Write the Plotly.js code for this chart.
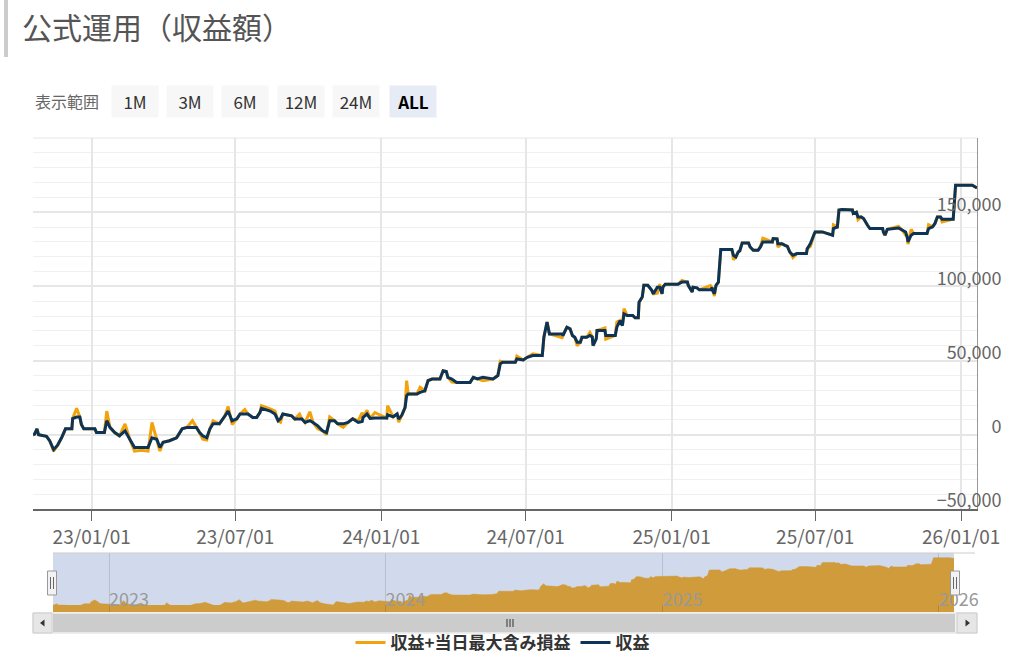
<!DOCTYPE html>
<html>
<head>
<meta charset="utf-8">
<script src="https://cdn.plot.ly/plotly-3.0.1.min.js"></script>
<style>
  html, body { margin: 0; padding: 0; background: #ffffff; }
  #chart { width: 1020px; height: 665px; }
</style>
</head>
<body>
<div id="chart"></div>
<script>
// ---- data ----
const dates = [
  "2022-10-19","2022-10-21","2022-10-24","2022-10-26","2022-11-05","2022-11-09","2022-11-14","2022-11-19","2022-11-24","2022-11-29",
  "2022-12-07","2022-12-08","2022-12-13","2022-12-17","2022-12-19","2022-12-22","2023-01-05","2023-01-07","2023-01-17","2023-01-20",
  "2023-01-24","2023-01-30","2023-02-05","2023-02-12","2023-02-18","2023-02-24","2023-03-05","2023-03-13","2023-03-18","2023-03-24",
  "2023-03-28","2023-04-01","2023-04-09","2023-04-18","2023-04-25","2023-05-01","2023-05-08","2023-05-13","2023-05-17","2023-05-21",
  "2023-05-26","2023-05-30","2023-06-03","2023-06-11","2023-06-18","2023-06-22","2023-06-27","2023-07-03","2023-07-07","2023-07-13",
  "2023-07-17","2023-07-23","2023-07-28","2023-08-01","2023-08-03","2023-08-14","2023-08-20","2023-08-24","2023-08-27","2023-08-30",
  "2023-09-10","2023-09-14","2023-09-20","2023-09-23","2023-09-27","2023-10-03","2023-10-07","2023-10-13","2023-10-19","2023-10-24",
  "2023-10-28","2023-11-03","2023-11-07","2023-11-14","2023-11-20","2023-11-26","2023-12-03","2023-12-08","2023-12-09","2023-12-14",
  "2023-12-18","2023-12-24","2024-01-08","2024-01-09","2024-01-16","2024-01-21","2024-01-23","2024-01-27","2024-01-31","2024-02-02",
  "2024-02-04","2024-02-15","2024-02-19","2024-02-25","2024-02-29","2024-03-05","2024-03-15","2024-03-19","2024-03-23","2024-03-25",
  "2024-03-30","2024-04-05","2024-04-22","2024-04-26","2024-05-01","2024-05-08","2024-05-21","2024-05-27","2024-05-30","2024-06-02",
  "2024-06-18","2024-06-20","2024-06-28","2024-07-03","2024-07-10","2024-07-22","2024-07-24","2024-07-28","2024-07-31","2024-08-16",
  "2024-08-17","2024-08-22","2024-08-26","2024-08-29","2024-09-01","2024-09-04","2024-09-08","2024-09-10","2024-09-16","2024-09-20",
  "2024-09-23","2024-09-24","2024-09-28","2024-09-29","2024-10-09","2024-10-10","2024-10-22","2024-10-24","2024-10-28","2024-10-31",
  "2024-11-02","2024-11-06","2024-11-13","2024-11-16","2024-11-20","2024-11-21","2024-11-25","2024-11-27","2024-12-02","2024-12-07",
  "2024-12-09","2024-12-14","2024-12-17","2024-12-20","2024-12-21","2024-12-24","2025-01-09","2025-01-14","2025-01-21","2025-01-22",
  "2025-01-27","2025-01-28","2025-02-02","2025-02-05","2025-02-19","2025-02-21","2025-02-22","2025-02-24","2025-02-26","2025-03-01",
  "2025-03-04","2025-03-18","2025-03-20","2025-03-23","2025-03-26","2025-03-28","2025-03-31","2025-04-08","2025-04-10","2025-04-14",
  "2025-04-20","2025-04-23","2025-04-26","2025-05-08","2025-05-09","2025-05-14","2025-05-15","2025-05-20","2025-05-24","2025-05-27",
  "2025-05-30","2025-06-03","2025-06-08","2025-06-20","2025-06-21","2025-06-25","2025-06-30","2025-07-01","2025-07-10","2025-07-16",
  "2025-07-23","2025-07-24","2025-07-29","2025-07-31","2025-08-04","2025-08-17","2025-08-18","2025-08-22","2025-08-24","2025-08-28",
  "2025-08-31","2025-09-05","2025-09-08","2025-09-24","2025-09-25","2025-09-27","2025-09-30","2025-10-14","2025-10-19","2025-10-23",
  "2025-10-25","2025-10-26","2025-10-30","2025-11-02","2025-11-19","2025-11-21","2025-11-26","2025-11-29","2025-12-02","2025-12-06",
  "2025-12-08","2025-12-22","2025-12-25","2026-01-15","2026-01-21"
];

// 収益
const profit = [
  0,500,4000,0,-1000,-4000,-10000,-7000,-2000,4000,
  4000,11000,12000,12000,7000,4000,4000,1500,1500,9500,
  5000,1500,-700,2700,-3000,-8500,-8500,-8500,-2000,-3000,
  -8500,-5000,-4000,-2000,4000,5000,5000,5000,1500,-700,
  -2000,4000,7400,7400,12800,16000,9500,10800,14000,14000,
  14000,11700,11700,15000,17800,16000,14000,9500,11000,14000,
  12800,10600,10600,10600,8300,9500,8300,6000,2700,1500,
  9500,9500,7400,7400,8300,10800,8300,9000,11700,14000,
  11000,11300,11300,13500,12100,14000,10600,13300,18400,26300,
  27500,27500,28600,29700,36500,37600,37600,43200,42700,38700,
  37600,35300,35300,38700,37600,38700,37600,39900,47800,48900,
  48900,51100,50400,52200,53400,53400,65700,75900,68000,68000,
  66900,72500,71400,66900,65700,62400,62400,65700,65700,66900,
  66000,60100,64700,70300,70300,66900,66900,72500,77000,73600,
  81500,80400,80400,78800,78800,89400,92800,100700,100700,97300,
  95000,99500,99500,95000,99500,101400,101400,102900,102900,100700,
  96200,99500,99000,97700,97700,99100,97000,95000,100700,102900,
  124800,124800,121000,119800,123200,124000,129300,129300,126600,124300,
  124300,126600,130000,130000,132200,132000,128800,128800,127700,127000,
  123200,121000,122100,122100,125400,128800,135600,136700,136700,135600,
  134500,139000,140100,151400,151800,151500,149100,150000,146800,146800,
  145700,141200,139000,139000,136700,134500,138500,139400,137800,136700,
  133300,130000,134500,135600,135600,139000,140100,142400,146800,146800,
  145300,145300,168200,168200,166400
];

// 収益+当日最大含み損益
const profitWithMax = [
  0,500,4000,0,-1000,-4000,-11000,-7000,-2000,4000,
  4000,11000,17800,12000,7000,4000,4000,1500,1500,16000,
  5000,1500,-700,7400,-3000,-11000,-10500,-11000,8300,-3000,
  -11000,-5000,-4000,-2000,4000,5000,9500,5000,1500,-3000,
  -3500,4000,9500,7400,12800,19000,7000,10800,14000,17000,
  14000,11700,11700,15000,19600,17500,16000,9500,8500,14000,
  12800,10600,14000,10600,8300,15500,8300,4000,2700,0,
  12000,9500,7400,5000,8300,10800,9500,15000,11700,16500,
  11000,15000,11300,19600,12100,14000,8500,13300,18400,36500,
  27500,27500,32000,29700,36500,37600,37600,43200,42700,38700,
  35500,35300,35300,38700,37600,36500,37600,39900,49500,48900,
  48900,53000,50400,52200,54600,53400,65700,75900,68000,65500,
  66900,72500,71400,66900,65700,60000,62400,65700,65700,69000,
  66000,60100,64700,70300,72000,64500,66900,76000,77000,73600,
  85000,80400,80400,78800,78800,89400,92800,100700,100700,97300,
  95000,95500,101500,95000,99500,101400,101400,104000,102900,100700,
  96200,99500,99000,97700,100500,99100,97000,93500,100700,102900,
  124800,124800,118000,119800,123200,124000,129300,129300,126600,124300,
  124300,126600,132500,130000,132200,132000,126500,128800,127700,127000,
  123200,119500,122100,122100,125400,127000,135600,136700,136700,135600,
  134500,141500,140100,151400,151800,151500,149100,150000,145000,146800,
  145700,141200,139000,139000,136700,134500,138500,140500,137800,134500,
  133300,128500,138500,135600,135600,141500,140100,142400,146800,146800,
  143500,145300,168200,168200,166400
];

const seriesNames = ["収益+当日最大含み損益", "収益"];
const yTickVals = [-50000, 0, 50000, 100000, 150000];
const xTickVals = ["2023-01-01","2023-07-01","2024-01-01","2024-07-01","2025-01-01","2025-07-01","2026-01-01"];
const navTickVals = ["2023-01-01","2024-01-01","2025-01-01","2026-01-01"];
const rangeButtons = ["1M", "3M", "6M", "12M", "24M", "ALL"];
const rangeLabel = "表示範囲";
const titleText = "公式運用（収益額）";

// ---- styling helpers (pixel -> paper coordinates for decorations) ----
const W = 1020, H = 665;
const ML = 33, MR = 43, MT = 138, MB = 53;
const PW = W - ML - MR, PH = H - MT - MB;
const PX = X => (X - ML) / PW;
const PY = Y => (H - MB - Y) / PH;
const FONT = '"Noto Sans CJK JP", "Noto Sans", sans-serif';

const navColor = '#d09b3b';
const orange = '#f2a20c';
const navy = '#0c3358';

const traces = [
  {
    x: dates, y: profitWithMax, name: seriesNames[0], type: 'scatter', mode: 'lines',
    line: { color: orange, width: 3 }, xaxis: 'x', yaxis: 'y'
  },
  {
    x: dates, y: profit, name: seriesNames[1], type: 'scatter', mode: 'lines',
    line: { color: navy, width: 3 }, xaxis: 'x', yaxis: 'y'
  },
  {
    x: dates, y: profitWithMax, type: 'scatter', mode: 'lines', fill: 'tozeroy',
    fillcolor: navColor, line: { color: navColor, width: 0.5 },
    xaxis: 'x2', yaxis: 'y2', showlegend: false, hoverinfo: 'skip'
  }
];

const shapes = [];
function rectPx(x0, y0, x1, y1, fill, lineColor, lw) {
  shapes.push({ type: 'rect', xref: 'paper', yref: 'paper', x0: PX(x0), x1: PX(x1), y0: PY(y1), y1: PY(y0),
    fillcolor: fill, line: { color: lineColor || fill, width: lw === undefined ? 0 : lw }, layer: 'above' });
}
function linePx(x0, y0, x1, y1, color, w) {
  shapes.push({ type: 'line', xref: 'paper', yref: 'paper', x0: PX(x0), x1: PX(x1), y0: PY(y0), y1: PY(y1),
    line: { color: color, width: w }, layer: 'above' });
}
function pathPx(pts, fill) {
  const d = pts.map((p, i) => (i ? 'L' : 'M') + PX(p[0]) + ',' + PY(p[1])).join(' ') + ' Z';
  shapes.push({ type: 'path', xref: 'paper', yref: 'paper', path: d, fillcolor: fill, line: { width: 0 }, layer: 'above' });
}

// navigator background (selected zone mask) and base of the area
shapes.push({ type: 'rect', xref: 'x2 domain', yref: 'y2 domain', x0: 0, x1: 1, y0: 0, y1: 1,
  fillcolor: 'rgba(102,133,194,0.3)', line: { width: 0 }, layer: 'below' });
shapes.push({ type: 'rect', xref: 'x2 domain', yref: 'y2', x0: 0, x1: 1, y0: -25000, y1: 0,
  fillcolor: navColor, line: { width: 0 }, layer: 'below' });

// top border of main plot
linePx(33, 138, 977, 138, '#e6e6e6', 1);
// navigator top outline
linePx(53, 553, 975, 553, '#cccccc', 1);
// navigator handles
[52, 955].forEach(cx => {
  rectPx(cx - 4.5, 571, cx + 4.5, 595, '#f2f2f2', '#999999', 1);
  linePx(cx - 1.5, 577, cx - 1.5, 589, '#666666', 1);
  linePx(cx + 1.5, 577, cx + 1.5, 589, '#666666', 1);
});

// scrollbar
rectPx(33, 613, 977, 633, '#f2f2f2', '#dddddd', 1);
rectPx(53, 614, 955, 632, '#cccccc', '#cccccc', 0);
rectPx(33, 613, 52, 633, '#e6e6e6', '#cccccc', 1);
rectPx(957, 613, 977, 633, '#e6e6e6', '#cccccc', 1);
pathPx([[44.5, 619.5], [40, 623], [44.5, 626.5]], '#333333');
pathPx([[965.5, 619.5], [970, 623], [965.5, 626.5]], '#333333');
[507, 510, 513].forEach(x => linePx(x, 619, x, 627, '#333333', 1));

// title left bar
rectPx(4, 0, 8, 57, '#cccccc', '#cccccc', 0);

// range selector (visual)
const annotations = [];
annotations.push({
  text: rangeLabel, xref: 'paper', yref: 'paper', x: 0, y: 1, xanchor: 'left', yanchor: 'middle',
  xshift: 0, yshift: MT - 101, showarrow: false, font: { family: FONT, size: 16, color: '#666666' }
});
const btnCenters = [135, 190, 245, 301, 356, 412.5];
rangeButtons.forEach((b, i) => {
  const active = b === 'ALL';
  annotations.push({
    text: b, xref: 'paper', yref: 'paper', x: 0, y: 1, xanchor: 'center', yanchor: 'middle',
    xshift: btnCenters[i] - ML, yshift: MT - 101.5, showarrow: false,
    width: 46, height: 31, borderpad: 0, bgcolor: active ? '#e6ebf5' : '#f7f7f7',
    font: { family: FONT, size: 17, color: active ? '#000000' : '#333333', weight: active ? 'bold' : 'normal' }
  });
});

const layout = {
  width: W, height: H,
  margin: { l: ML, r: MR, t: MT, b: MB, pad: 0 },
  paper_bgcolor: '#ffffff', plot_bgcolor: '#ffffff',
  font: { family: FONT, color: '#666666' },
  title: {
    text: titleText, font: { family: FONT, size: 30, color: '#555555' },
    xref: 'container', yref: 'container', x: 22 / W, y: 1 - 28 / H, xanchor: 'left', yanchor: 'middle'
  },
  showlegend: true,
  legend: {
    orientation: 'h', xref: 'paper', yref: 'container', x: PX(503), y: 1 - 643 / H,
    xanchor: 'center', yanchor: 'middle',
    font: { family: FONT, size: 17, color: '#333333', weight: 'bold' }, bgcolor: 'rgba(0,0,0,0)'
  },
  hovermode: 'x',
  xaxis: {
    type: 'date', domain: [0, 1], anchor: 'y', range: [dates[0], dates[dates.length - 1]],
    tickmode: 'array', tickvals: xTickVals, tickformat: '%y/%m/%d',
    ticks: 'outside', ticklen: 10, tickcolor: '#666666', tickwidth: 1,
    showline: true, linecolor: '#666666', linewidth: 2,
    showgrid: true, gridcolor: '#e6e6e6', gridwidth: 2,
    tickfont: { family: FONT, size: 19, color: '#666666' }, automargin: false, fixedrange: true,
    ticklabeloverflow: 'allow'
  },
  yaxis: {
    domain: [PY(509), 1], anchor: 'x', side: 'right', range: [-50000, 200000],
    tickmode: 'array', tickvals: yTickVals, tickformat: ',',
    ticks: '', ticklabelposition: 'inside', ticklabelstandoff: -24, ticklabelshift: -8,
    showline: true, linecolor: '#999999', linewidth: 1,
    showgrid: true, gridcolor: '#e6e6e6', gridwidth: 2, zeroline: false,
    minor: { dtick: 10000, showgrid: true, gridcolor: '#f0f0f0', gridwidth: 1 },
    tickfont: { family: FONT, size: 18, color: '#666666' }, automargin: false, fixedrange: true,
    ticklabeloverflow: 'allow'
  },
  xaxis2: {
    type: 'date', domain: [PX(53), PX(954)], anchor: 'y2', range: [dates[0], dates[dates.length - 1]],
    tickmode: 'array', tickvals: navTickVals, tickformat: '%Y',
    ticks: '', ticklabelposition: 'inside right', ticklabelstandoff: -4,
    showline: false, showgrid: true, gridcolor: 'rgba(0,0,0,0.12)', gridwidth: 1,
    tickfont: { family: FONT, size: 18, color: '#999999' }, automargin: false, fixedrange: true,
    ticklabeloverflow: 'allow'
  },
  yaxis2: {
    domain: [0, PY(553)], anchor: 'x2', range: [-25000, 185000],
    showticklabels: false, showgrid: false, zeroline: false, showline: false, fixedrange: true
  },
  shapes: shapes,
  annotations: annotations
};

Plotly.newPlot('chart', traces, layout, { displayModeBar: false, responsive: false });
</script>
</body>
</html>
